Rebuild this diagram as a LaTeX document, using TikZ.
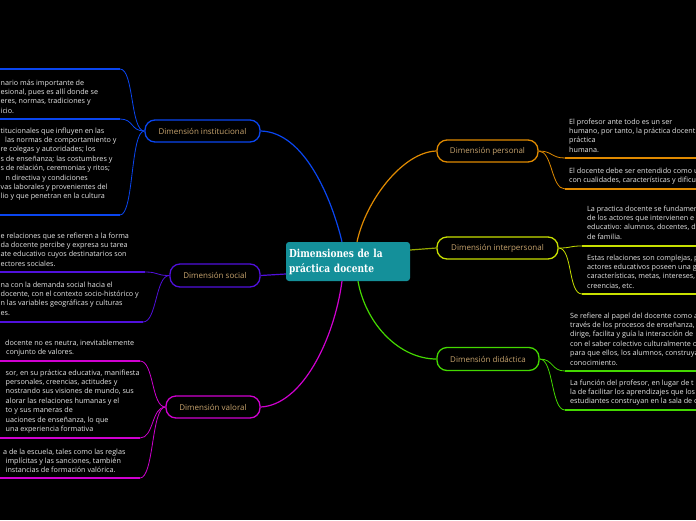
\documentclass[tikz,border=0pt]{standalone}
\usepackage{fontspec}
\setmainfont{Open Sans}
\newfontfamily\titlefont[FakeStretch=0.82]{DejaVu Serif}
\usetikzlibrary{calc}
\definecolor{cblue}{HTML}{0A46F0}
\definecolor{cpurple}{HTML}{5010DC}
\definecolor{cmag}{HTML}{D000D0}
\definecolor{corange}{HTML}{E08A00}
\definecolor{cyellow}{HTML}{C8E000}
\definecolor{cgreen}{HTML}{44D800}
\definecolor{cteal}{HTML}{14909A}
\definecolor{labelc}{HTML}{C8A46E}
\definecolor{txtc}{HTML}{E6E6E6}
\tikzset{
  mainbox/.style={draw, line width=1.3pt, rounded corners=10pt, fill=black, text=labelc,
    font=\fontsize{8}{9}\selectfont, minimum height=22pt, inner sep=0pt},
  centerbox/.style={fill=cteal, rounded corners=3pt, text=white, align=left,
    font=\titlefont\bfseries\fontsize{11}{15}\selectfont, text width=118pt,
    inner xsep=3pt, inner ysep=0pt, minimum height=39pt},
  subtext/.style={text=txtc, font=\fontsize{7.2}{9.4}\selectfont, align=left,
    inner sep=0pt, anchor=north west},
  link/.style={line width=1.2pt},
  sublink/.style={line width=0.8pt},
  uline/.style={line width=2pt}
}
\begin{document}
\begin{tikzpicture}[x=1pt,y=-1pt]
\useasboundingbox (0,0) rectangle (696,520);
\fill[black] (0,0) rectangle (696,520);
\clip (0,0) rectangle (696,520);

% central node
\node[centerbox] (cen) at (348,261.5) {Dimensiones de la\\práctica docente};

% main nodes
\node[mainbox, draw=cblue, minimum width=115pt] (inst) at (202.5,131) {Dimensión institucional};
\node[mainbox, draw=cpurple, minimum width=90pt, minimum height=23pt] (soc) at (215,275.5) {Dimensión social};
\node[mainbox, draw=cmag, minimum width=94pt] (val) at (213,407) {Dimensión valoral};
\node[mainbox, draw=corange, minimum width=101pt] (pers) at (487.5,151) {Dimensión personal};
\node[mainbox, draw=cyellow, minimum width=121pt] (inter) at (497.5,248) {Dimensión interpersonal};
\node[mainbox, draw=cgreen, minimum width=102pt, minimum height=23pt] (did) at (488,359) {Dimensión didáctica};

% main connectors
\draw[link, cblue] (inst.east) .. controls (305,132) and (332,200) .. ([xshift=-6pt]cen.north);
\draw[link, corange] (pers.west) .. controls (403,152) and (366,200) .. ([xshift=9pt]cen.north);
\draw[link, cyellow!75!black] ([yshift=11.5pt]cen.east) -- (inter.west);
\draw[link, cpurple] (soc.east) -- ([yshift=-12.5pt]cen.west);
\draw[link, cmag] ([xshift=-6pt]cen.south) .. controls (334,340) and (302,405) .. (val.east);
\draw[link, cgreen] ([xshift=10pt]cen.south) .. controls (366,325) and (400,359) .. (did.west);

% sub-topic end points
\coordinate (i1) at (120,69);
\coordinate (i2) at (120,119);
\coordinate (i3) at (120,215);
\coordinate (s1) at (145,272);
\coordinate (s2) at (143,322);
\coordinate (v1) at (140,361);
\coordinate (v2) at (140,438);
\coordinate (v3) at (140,478);
\coordinate (p1) at (565,158);
\coordinate (p2) at (565,189);
\coordinate (n1) at (582,246);
\coordinate (n2) at (582,294);
\coordinate (d1) at (565,371);
\coordinate (d2) at (565,410);

% left sub links
\foreach \c in {i1,i2,i3} {
  \draw[sublink, cblue] (inst.west) .. controls +(-14,0) and +(14,0) .. (\c);
  \draw[uline, cblue] (\c) -- (\c -| 0,0);
}
\foreach \c in {s1,s2} {
  \draw[sublink, cpurple] (soc.west) .. controls +(-14,0) and +(14,0) .. (\c);
  \draw[uline, cpurple] (\c) -- (\c -| 0,0);
}
\foreach \c in {v1,v2,v3} {
  \draw[sublink, cmag] (val.west) .. controls +(-14,0) and +(14,0) .. (\c);
  \draw[uline, cmag] (\c) -- (\c -| 0,0);
}
% right sub links
\foreach \c in {p1,p2} {
  \draw[sublink, corange] (pers.east) .. controls +(14,0) and +(-14,0) .. (\c);
  \draw[uline, corange] (\c) -- (\c -| 696,0);
}
\foreach \c in {n1,n2} {
  \draw[sublink, cyellow] (inter.east) .. controls +(14,0) and +(-14,0) .. (\c);
  \draw[uline, cyellow] (\c) -- (\c -| 696,0);
}
\foreach \c in {d1,d2} {
  \draw[sublink, cgreen] (did.east) .. controls +(14,0) and +(-14,0) .. (\c);
  \draw[uline, cgreen] (\c) -- (\c -| 696,0);
}

% left texts
\node[subtext] (ti1) at (0.5,78.3) {\strut nario más importante de\\esional, pues es allí donde se\\eres, normas, tradiciones y\\icio.};
\node[subtext] (ti2) at (0.5,126.3) {\strut titucionales que influyen en las\\\hspace*{4.5pt}las normas de comportamiento y\\re colegas y autoridades; los\\s de enseñanza; las costumbres y\\s de relación, ceremonias y ritos;\\\hspace*{5pt}n directiva y condiciones\\vas laborales y provenientes del\\lio y que penetran en la cultura};
\node[subtext] (ts1) at (0.5,231.3) {\strut e relaciones que se refieren a la forma\\da docente percibe y expresa su tarea\\ate educativo cuyos destinatarios son\\ectores sociales.};
\node[subtext] (ts2) at (0.5,280.3) {\strut na con la demanda social hacia el\\docente, con el contexto socio-histórico y\\n las variables geográficas y culturas\\es.};
\node[subtext] (tv1) at (5,338.3) {\strut docente no es neutra, inevitablemente\\\hspace*{1pt}conjunto de valores.};
\node[subtext] (tv2) at (5.5,368.3) {\strut sor, en su práctica educativa, manifiesta\\personales, creencias, actitudes y\\nostrando sus visiones de mundo, sus\\alorar las relaciones humanas y el\\to y sus maneras de\\uaciones de enseñanza, lo que\\una experiencia formativa};
\node[subtext] (tv3) at (3,447.3) {\strut a de la escuela, tales como las reglas\\\hspace*{2.5pt}implícitas y las sanciones, también\\\hspace*{2.5pt}instancias de formación valórica.};

% right texts
\node[subtext] (tp1) at (569,117.3) {\strut El profesor ante todo es un ser\\humano, por tanto, la práctica docent\\práctica\\humana.};
\node[subtext] (tp2) at (569,166.3) {\strut El docente debe ser entendido como u\\con cualidades, características y dificu};
\node[subtext] (tn1) at (587,204.3) {\strut La practica docente se fundamen\\de los actores que intervienen e\\educativo: alumnos, docentes, d\\de familia.};
\node[subtext] (tn2) at (587,253.3) {\strut Estas relaciones son complejas, p\\actores educativos poseen una g\\características, metas, intereses,\\creencias, etc.};
\node[subtext] (td1) at (570,311.3) {\strut Se refiere al papel del docente como a\\través de los procesos de enseñanza,\\dirige, facilita y guía la interacción de\\con el saber colectivo culturalmente o\\para que ellos, los alumnos, construya\\conocimiento.};
\node[subtext] (td2) at (570,378.3) {\strut La función del profesor, en lugar de t\\la de facilitar los aprendizajes que los\\estudiantes construyan en la sala de c};
\end{tikzpicture}
\end{document}
